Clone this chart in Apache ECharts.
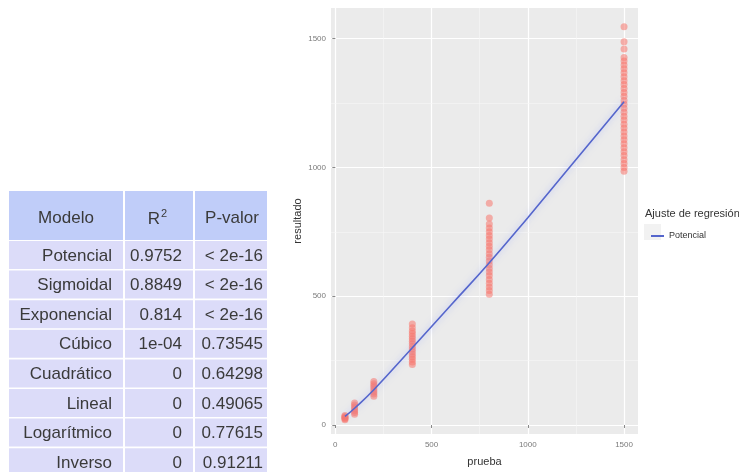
<!DOCTYPE html>
<html>
<head>
<meta charset="utf-8">
<script src="https://cdn.jsdelivr.net/npm/echarts@6/dist/echarts.min.js"></script>
<style>
html,body{margin:0;padding:0;background:#fff;}
#chart{width:739px;height:472px;}
</style>
</head>
<body>
<div id="chart"></div>
<script>
// ---- Table data ----
var modelos = ['Potencial','Sigmoidal','Exponencial','Cúbico','Cuadrático','Lineal','Logarítmico','Inverso'];
var r2 = ['0.9752','0.8849','0.814','1e-04','0','0','0','0'];
var pValor = ['< 2e-16','< 2e-16','< 2e-16','0.73545','0.64298','0.49065','0.77615','0.91211'];
var tableHeaders = ['Modelo','R','P-valor'];

// ---- Scatter data (prueba groups and observed resultado) ----
var pruebaX = [50, 100, 200, 400, 800, 1500];
var res50 = [20, 24, 27, 30, 33, 37];
var res100 = [42, 48, 55, 62, 70, 78, 85];
var res200 = [112, 120, 128, 136, 145, 152, 160, 169];
var res400 = [235, 245, 255, 265, 275, 285, 295, 305, 315, 325, 335, 345, 355, 365, 378, 392];
var res800 = [508, 522, 536, 550, 565, 580, 594, 608, 622, 637, 651, 665, 680, 694, 708, 722, 736, 750, 765, 780, 804, 861];
var res1500 = [985, 1000, 1015, 1030, 1046, 1061, 1076, 1092, 1107, 1122, 1138, 1153, 1168, 1184, 1199, 1214, 1230, 1245, 1260, 1276, 1291, 1306, 1322, 1337, 1352, 1368, 1383, 1398, 1413, 1427, 1460, 1488, 1546];

// ---- Fitted potential regression line ----
var fitX = [50, 100, 200, 400, 600, 800, 1000, 1200, 1500];
var fitY = [33, 65, 137, 300, 465, 630, 805, 985, 1255];

// ---- Axis breaks ----
var xTicks = [0, 500, 1000, 1500];
var yTicks = [0, 500, 1000, 1500];
var xMinor = [250, 750, 1250];
var yMinor = [250, 750, 1250];

var groups = [res50, res100, res200, res400, res800, res1500];
var scatterData = [];
groups.forEach(function (ys, i) {
  ys.forEach(function (y) { scatterData.push([pruebaX[i], y]); });
});
var lineData = fitX.map(function (x, i) { return [x, fitY[i]]; });

// ---- Table graphics (layout) ----
var T = { colX: [9, 125, 195], colW: [114, 68, 72], headTop: 191, headH: 49, rowTop: 241, rowStep: 29.6, rowH: 28 };
var headFill = '#C0CDF9', bodyFill = '#DCDCF9', txtColor = '#3a3a3a';
var font = '17px "Liberation Sans", Arial, sans-serif';
var g = [];
for (var c = 0; c < 3; c++) {
  g.push({ type: 'rect', shape: { x: T.colX[c], y: T.headTop, width: T.colW[c], height: T.headH }, style: { fill: headFill } });
}
g.push({ type: 'text', x: 66, y: 218, style: { text: tableHeaders[0], font: font, fill: txtColor, align: 'center', verticalAlign: 'middle', textAlign: 'center', textVerticalAlign: 'middle' } });
g.push({ type: 'text', x: 160, y: 219, style: { text: tableHeaders[1], font: font, fill: txtColor, align: 'right', verticalAlign: 'middle', textAlign: 'right', textVerticalAlign: 'middle' } });
g.push({ type: 'text', x: 161, y: 214, style: { text: '2', font: '11px "Liberation Sans", Arial, sans-serif', fill: txtColor, align: 'left', verticalAlign: 'middle', textAlign: 'left', textVerticalAlign: 'middle' } });
g.push({ type: 'text', x: 232, y: 218, style: { text: tableHeaders[2], font: font, fill: txtColor, align: 'center', verticalAlign: 'middle', textAlign: 'center', textVerticalAlign: 'middle' } });
var rightX = [112, 182, 263];
modelos.forEach(function (m, i) {
  var top = T.rowTop + i * T.rowStep;
  var vals = [m, r2[i], pValor[i]];
  for (var c = 0; c < 3; c++) {
    g.push({ type: 'rect', shape: { x: T.colX[c], y: top, width: T.colW[c], height: T.rowH }, style: { fill: bodyFill } });
    g.push({ type: 'text', x: rightX[c], y: top + 15, style: { text: vals[c], font: font, fill: txtColor, align: 'right', verticalAlign: 'middle', textAlign: 'right', textVerticalAlign: 'middle' } });
  }
});
// legend title and key background
g.push({ type: 'text', x: 645, y: 214, style: { text: 'Ajuste de regresión', font: '11px "Liberation Sans", Arial, sans-serif', fill: '#333', align: 'left', verticalAlign: 'middle', textAlign: 'left', textVerticalAlign: 'middle' } });
g.push({ type: 'rect', shape: { x: 644, y: 224, width: 17, height: 16 }, style: { fill: '#F2F2F2' }, z: -1 });

var chart = echarts.init(document.getElementById('chart'));
var plainNum = function (v) { return String(v); };
var axisLabelStyle = { fontSize: 8, color: '#7a7a7a', fontFamily: 'Liberation Sans, Arial, sans-serif', formatter: plainNum };
chart.setOption({
  animation: false,
  backgroundColor: '#fff',
  graphic: { elements: g },
  grid: { left: 331, right: 101, top: 8, bottom: 34, show: true, backgroundColor: '#EBEBEB', borderWidth: 0, containLabel: false },
  legend: {
    data: ['Potencial'], orient: 'vertical', left: 646, top: 226.5, icon: 'rect', itemWidth: 13, itemHeight: 2,
    textStyle: { fontSize: 9, color: '#333', fontFamily: 'Liberation Sans, Arial, sans-serif' }, itemGap: 4
  },
  xAxis: {
    type: 'value', min: -22.5, max: 1572.5, splitNumber: 3,
    name: 'prueba', nameLocation: 'middle', nameGap: 22,
    nameTextStyle: { fontSize: 11, color: '#333', fontFamily: 'Liberation Sans, Arial, sans-serif' },
    axisLine: { show: false },
    axisTick: { show: true, length: 3, customValues: xTicks, lineStyle: { color: '#888' } },
    axisLabel: Object.assign({ customValues: xTicks, margin: 7 }, axisLabelStyle),
    splitLine: { show: true, lineStyle: { color: '#ffffff', width: 1.2 } }
  },
  yAxis: {
    type: 'value', min: -35, max: 1619, splitNumber: 3,
    name: 'resultado', nameLocation: 'middle', nameGap: 28,
    nameTextStyle: { fontSize: 11, color: '#333', fontFamily: 'Liberation Sans, Arial, sans-serif' },
    axisLine: { show: false },
    axisTick: { show: true, length: 3, customValues: yTicks, lineStyle: { color: '#888' } },
    axisLabel: Object.assign({ customValues: yTicks, margin: 5 }, axisLabelStyle),
    splitLine: { show: true, lineStyle: { color: '#ffffff', width: 1.2 } }
  },
  series: [
    {
      type: 'line', name: 'grid-minor', data: [], silent: true, z: 1,
      markLine: {
        silent: true, symbol: 'none', z: 1, label: { show: false },
        lineStyle: { color: '#F7F7F7', width: 0.6, type: 'solid' },
        data: xMinor.map(function (v) { return { xAxis: v }; }).concat(yMinor.map(function (v) { return { yAxis: v }; }))
      }
    },
    {
      type: 'scatter', name: 'Observado', data: scatterData, symbolSize: 7, z: 2,
      itemStyle: { color: '#F8766D', opacity: 0.55 }
    },
    {
      type: 'line', name: 'Potencial', data: lineData, smooth: true, symbol: 'none', z: 3,
      lineStyle: { color: '#5566CC', width: 1.6, shadowColor: 'rgba(150,165,255,0.7)', shadowBlur: 6 },
      itemStyle: { color: '#5566CC' }
    }
  ]
});
</script>
</body>
</html>
